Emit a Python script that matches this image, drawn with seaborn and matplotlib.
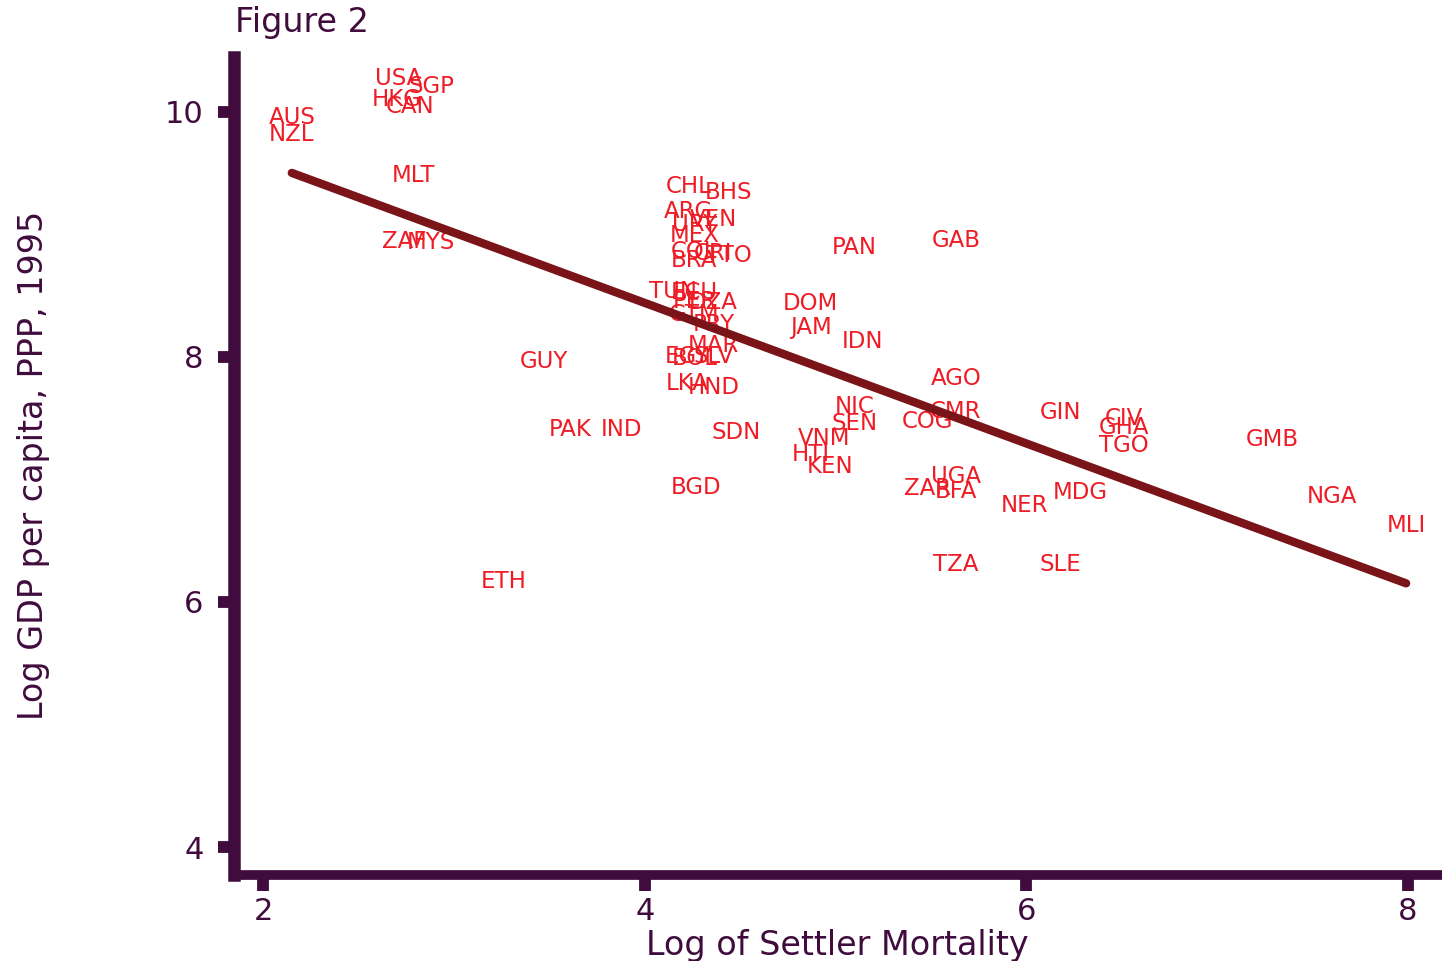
import numpy as np
import pandas as pd
import matplotlib
matplotlib.use("Agg")
import matplotlib.pyplot as plt
import seaborn as sns

# country codes, log settler mortality, log GDP per capita 1995
codes = ["AGO", "ARG", "AUS", "BFA", "BGD", "BHS", "BOL", "BRA", "CAN", "CHL",
         "CIV", "CMR", "COG", "COL", "CRI", "DOM", "DZA", "ECU", "EGY", "ETH",
         "GAB", "GHA", "GIN", "GMB", "GTM", "GUY", "HKG", "HND", "HTI", "IDN",
         "IND", "JAM", "KEN", "LKA", "MAR", "MDG", "MEX", "MLI", "MLT", "MYS",
         "NER", "NGA", "NIC", "NZL", "PAK", "PAN", "PER", "PRY", "SDN", "SEN",
         "SGP", "SLE", "SLV", "TGO", "TTO", "TUN", "TZA", "UGA", "URY", "USA",
         "VEN", "VNM", "ZAF", "ZAR"]
logem = [5.63, 4.23, 2.15, 5.63, 4.27, 4.44, 4.26, 4.26, 2.77, 4.23,
         6.51, 5.63, 5.48, 4.26, 4.36, 4.87, 4.36, 4.26, 4.22, 3.26,
         5.63, 6.51, 6.18, 7.29, 4.26, 3.47, 2.70, 4.36, 4.87, 5.14,
         3.88, 4.87, 4.97, 4.22, 4.36, 6.28, 4.26, 7.99, 2.79, 2.88,
         5.99, 7.60, 5.10, 2.15, 3.61, 5.10, 4.26, 4.36, 4.48, 5.10,
         2.88, 6.18, 4.36, 6.51, 4.44, 4.15, 5.63, 5.63, 4.26, 2.71,
         4.36, 4.94, 2.74, 5.48]
logpgp = [7.77, 9.13, 9.90, 6.85, 6.88, 9.29, 7.93, 8.73, 9.99, 9.34,
          7.44, 7.50, 7.42, 8.81, 8.79, 8.38, 8.39, 8.47, 7.95, 6.11,
          8.90, 7.37, 7.49, 7.27, 8.29, 7.91, 10.05, 7.70, 7.15, 8.07,
          7.35, 8.19, 7.05, 7.73, 8.04, 6.84, 8.94, 6.57, 9.43, 8.88,
          6.73, 6.81, 7.54, 9.76, 7.35, 8.84, 8.40, 8.21, 7.33, 7.40,
          10.15, 6.25, 7.95, 7.22, 8.77, 8.48, 6.25, 6.97, 9.03, 10.22,
          9.07, 7.28, 8.89, 6.87]

df = pd.DataFrame({"code": codes, "logem4": logem, "logpgp95": logpgp})

axis_col = "#400c3e"
label_col = "#ee1c25"
line_col = "#7a1418"

sns.set_theme(style="ticks")
plt.rcParams["font.family"] = ["DejaVu Sans"]

fig = plt.figure(figsize=(14.42, 9.61), dpi=100)
ax = fig.add_axes([0.162, 0.09, 0.838, 0.851])

# country code labels centred on each point
for c, xv, yv in zip(df["code"], df["logem4"], df["logpgp95"]):
    ax.text(xv, yv, c, color=label_col, fontsize=16.5, ha="center", va="baseline", zorder=2)

# fitted OLS line
sns.regplot(data=df, x="logem4", y="logpgp95", scatter=False, ci=None, ax=ax,
            line_kws={"color": line_col, "lw": 6, "zorder": 3})

ax.set_xlim(1.845, 8.178)
ax.set_ylim(3.776, 10.449)
ax.set_xticks([2, 4, 6, 8])
ax.set_yticks([4, 6, 8, 10])

for side in ["top", "right"]:
    ax.spines[side].set_visible(False)
ax.spines["left"].set_color(axis_col)
ax.spines["left"].set_linewidth(9)
ax.spines["bottom"].set_color(axis_col)
ax.spines["bottom"].set_linewidth(7)

ax.tick_params(axis="x", colors=axis_col, length=11.5, width=8.5, labelsize=22, pad=5)
ax.tick_params(axis="y", colors=axis_col, length=11.5, width=8.5, labelsize=22, pad=10)

ax.set_xlabel("Log of Settler Mortality", color=axis_col, fontsize=24, labelpad=2)
ax.set_ylabel("Log GDP per capita, PPP, 1995", color=axis_col, fontsize=24)
ax.yaxis.set_label_coords(-0.152, 0.5)

fig.text(0.163, 0.977, "Figure 2", color=axis_col, fontsize=24, ha="left", va="center")

fig.savefig("out.png", dpi=100, facecolor="white")
